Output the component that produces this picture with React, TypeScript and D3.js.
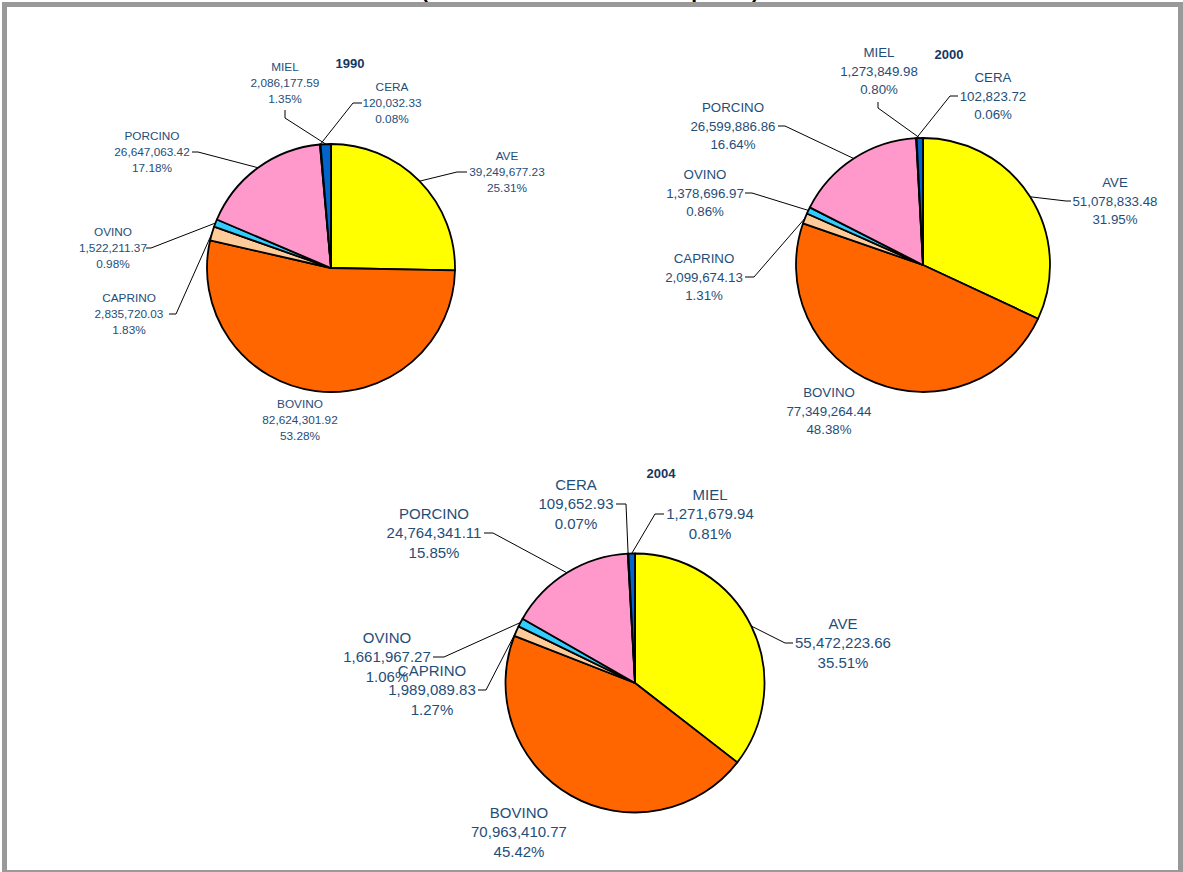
import React from "react";
import * as d3 from "d3";

// Production value by species / product, three reference years
const categories = ["AVE", "BOVINO", "CAPRINO", "OVINO", "PORCINO", "CERA", "MIEL"];
const years = ["1990", "2000", "2004"];
const values1990 = [39249677.23, 82624301.92, 2835720.03, 1522211.37, 26647063.42, 120032.33, 2086177.59];
const values2000 = [51078833.48, 77349264.44, 2099674.13, 1378696.97, 26599886.86, 102823.72, 1273849.98];
const values2004 = [55472223.66, 70963410.77, 1989089.83, 1661967.27, 24764341.11, 109652.93, 1271679.94];
const seriesByYear = [values1990, values2000, values2004];

const sliceColors = ["#FFFF00", "#FF6600", "#FFCC99", "#33CCFF", "#FF99CC", "#003399", "#0066CC"];
const titleText = "(Valor de la Producción en pesos)";

const TEXT = "#1F4E79";
const FONT = "'Liberation Sans', Arial, Helvetica, sans-serif";

type Pt = [number, number];
type LabelSpec = { x: number; y: number; lead?: [Pt, Pt] };

// Placement of each pie and its data labels (same order as categories)
const pieLayouts: {
  cx: number; cy: number; r: number; fontSize: number; lineHeight: number;
  yearPos: Pt; labels: LabelSpec[];
}[] = [
  {
    cx: 331, cy: 268, r: 124, fontSize: 11.8, lineHeight: 16, yearPos: [350, 63],
    labels: [
      { x: 507, y: 172, lead: [[467, 172], [457, 172]] },
      { x: 300, y: 420 },
      { x: 129, y: 314, lead: [[169, 314], [176, 314]] },
      { x: 113, y: 248, lead: [[146, 248], [151, 248]] },
      { x: 152, y: 152, lead: [[192, 152], [198, 152]] },
      { x: 392, y: 103, lead: [[362, 103], [353, 103]] },
      { x: 285, y: 83, lead: [[285, 110], [285, 118]] },
    ],
  },
  {
    cx: 923, cy: 265, r: 127, fontSize: 13.3, lineHeight: 18.5, yearPos: [949, 54],
    labels: [
      { x: 1115, y: 201, lead: [[1071, 201], [1066, 201]] },
      { x: 829, y: 411 },
      { x: 704, y: 277, lead: [[745, 277], [754, 277]] },
      { x: 705, y: 193, lead: [[745, 193], [752, 193]] },
      { x: 733, y: 126, lead: [[778, 126], [785, 126]] },
      { x: 993, y: 96, lead: [[958, 96], [950, 96]] },
      { x: 879, y: 71, lead: [[878, 102], [878, 108]] },
    ],
  },
  {
    cx: 635, cy: 683, r: 129.5, fontSize: 15, lineHeight: 19.5, yearPos: [661, 473],
    labels: [
      { x: 843, y: 643, lead: [[793, 643], [785, 643]] },
      { x: 519, y: 832 },
      { x: 432, y: 690, lead: [[478, 690], [486, 690]] },
      { x: 387, y: 657, lead: [[433, 657], [444, 657]] },
      { x: 434, y: 533, lead: [[484, 533], [493, 533]] },
      { x: 576, y: 504, lead: [[616, 504], [626, 504]] },
      { x: 710, y: 514, lead: [[664, 514], [655, 514]] },
    ],
  },
];

const fmtValue = d3.format(",.2f");
const fmtPct = d3.format(".2%");

function PieChart({ index }: { index: number }) {
  const layout = pieLayouts[index];
  const values = seriesByYear[index];
  const total = d3.sum(values);
  const pie = d3.pie<number>().sort(null).value((d) => d).startAngle(0).endAngle(2 * Math.PI);
  const arcs = pie(values);
  const arc = d3.arc<d3.PieArcDatum<number>>().innerRadius(0).outerRadius(layout.r);
  const { cx, cy, r, fontSize, lineHeight } = layout;

  return (
    <g>
      <g transform={`translate(${cx},${cy})`}>
        {arcs.map((a, i) => (
          <path
            key={categories[i]}
            d={arc(a) || ""}
            fill={sliceColors[i]}
            stroke="#000"
            strokeWidth={1.8}
            strokeLinejoin="round"
          />
        ))}
      </g>
      {arcs.map((a, i) => {
        const spec = layout.labels[i];
        if (!spec.lead) return null;
        const mid = (a.startAngle + a.endAngle) / 2;
        const end: Pt = [cx + r * Math.sin(mid), cy - r * Math.cos(mid)];
        const pts = [spec.lead[0], spec.lead[1], end];
        return (
          <path
            key={"lead-" + categories[i]}
            d={d3.line()(pts) || ""}
            fill="none"
            stroke="#000"
            strokeWidth={1}
          />
        );
      })}
      {arcs.map((a, i) => {
        const spec = layout.labels[i];
        const lines = [categories[i], fmtValue(values[i]), fmtPct(values[i] / total)];
        const base = spec.y + 0.36 * fontSize;
        return (
          <text
            key={"label-" + categories[i]}
            textAnchor="middle"
            fontFamily={FONT}
            fontSize={fontSize}
            fill={TEXT}
          >
            {lines.map((t, k) => (
              <tspan key={k} x={spec.x} y={base + (k - 1) * lineHeight}>
                {t}
              </tspan>
            ))}
          </text>
        );
      })}
      <text
        x={layout.yearPos[0]}
        y={layout.yearPos[1] + 0.36 * 13}
        textAnchor="middle"
        fontFamily={FONT}
        fontWeight="bold"
        fontSize={13}
        fill="#17375E"
      >
        {years[index]}
      </text>
    </g>
  );
}

export default function App() {
  const width = 1183;
  const height = 872;
  return (
    <svg
      width={width}
      height={height}
      style={{ position: "absolute", left: 0, top: 0, display: "block", background: "#fff" }}
    >
      <rect x={0} y={0} width={width} height={height} fill="#fff" />
      <text
        x={421}
        y={-2.5}
        textLength={338}
        fontFamily={FONT}
        fontWeight="bold"
        fontSize={21}
        fill="#000"
      >
        {titleText}
      </text>
      <rect x={4.5} y={4.5} width={1176} height={868} fill="none" stroke="#999" strokeWidth={5} />
      {years.map((y, i) => (
        <PieChart key={y} index={i} />
      ))}
    </svg>
  );
}
